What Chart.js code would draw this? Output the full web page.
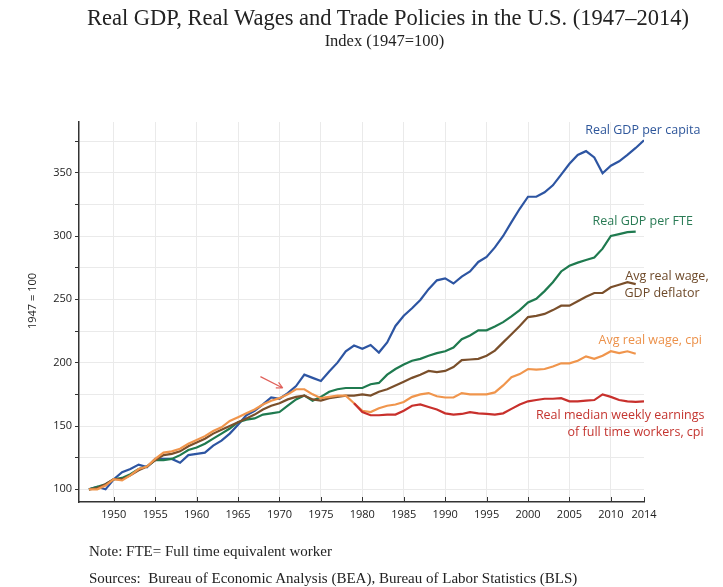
<!DOCTYPE html>
<html>
<head>
<meta charset="utf-8">
<script src="https://cdn.jsdelivr.net/npm/chart.js@4.4.1/dist/chart.umd.min.js"></script>
<style>
    body { margin: 0; background: #fff; }
    #wrap { position: relative; width: 723px; height: 587px; }
    #chartBox { position: absolute; left: 0; top: 0; width: 723px; height: 587px; }
    .txt { position: absolute; font-family: "Liberation Serif", serif; color: #222; white-space: nowrap; }
    #title { top: 3px; left: 0; width: 776px; text-align: center; font-size: 22.5px; line-height: 30px; }
    #subtitle { top: 30px; left: 0; width: 769px; text-align: center; font-size: 16.5px; line-height: 22px; }
    #note { top: 540px; left: 89px; font-size: 15px; line-height: 22px; }
    #sources { top: 567px; left: 89px; font-size: 15px; line-height: 22px; }
</style>
</head>
<body>
<div id="wrap">
    <div id="chartBox"><canvas id="gdpChart"></canvas></div>
    <div class="txt" id="title">Real GDP, Real Wages and Trade Policies in the U.S. (1947–2014)</div>
    <div class="txt" id="subtitle">Index (1947=100)</div>
    <div class="txt" id="note">Note: FTE= Full time equivalent worker</div>
    <div class="txt" id="sources">Sources:&nbsp; Bureau of Economic Analysis (BEA), Bureau of Labor Statistics (BLS)</div>
</div>

<script>
// years 1947..2014
const years = [
    1947, 1948, 1949, 1950, 1951, 1952, 1953, 1954, 1955, 1956,
    1957, 1958, 1959, 1960, 1961, 1962, 1963, 1964, 1965, 1966,
    1967, 1968, 1969, 1970, 1971, 1972, 1973, 1974, 1975, 1976,
    1977, 1978, 1979, 1980, 1981, 1982, 1983, 1984, 1985, 1986,
    1987, 1988, 1989, 1990, 1991, 1992, 1993, 1994, 1995, 1996,
    1997, 1998, 1999, 2000, 2001, 2002, 2003, 2004, 2005, 2006,
    2007, 2008, 2009, 2010, 2011, 2012, 2013, 2014
];

// 1947-2014
const gdpPerCapita = [
    100, 102, 100, 108, 113.5, 116, 119.5, 117.5, 124, 124,
    124, 121, 127, 128, 129, 134.5, 138.5, 144, 151, 158.5,
    162, 167, 172.5, 171.5, 176, 181.5, 190.5, 188, 185.5, 193,
    200, 209, 213.5, 211, 214, 208, 216, 229, 237, 243,
    249.5, 258, 265, 266.5, 262.5, 268, 272, 279.5, 283.5, 291,
    300, 311, 321.5, 331, 331, 334.5, 340, 348.5, 357, 364,
    367, 362, 349.5, 355.5, 359, 364, 369.5, 375.5
];

// 1947-2013
const gdpPerFte = [
    100, 102, 104, 108, 109, 112, 116, 118, 123, 123,
    124, 127, 131, 133, 136, 140, 144, 148, 153, 155,
    156, 159, 160, 161, 166, 171, 174, 170, 173, 177,
    179, 180, 180, 180, 183, 184, 190.5, 195, 198.5, 201.5,
    203, 205.5, 207.5, 209, 212, 218.5, 221.5, 225.5, 225.5, 228.5,
    232, 236.5, 241.5, 247.5, 250.5, 256.5, 263.5, 272, 276.5, 279,
    281, 283, 290, 300, 301.5, 303, 303.5
];

// 1947-2013
const wageGdpDeflator = [
    100, 101, 104, 108, 108, 111, 115, 118, 123, 127,
    128, 130, 134, 137, 140, 144, 147, 150, 153, 156,
    159, 163, 166, 168, 171, 173, 174, 171, 170, 172,
    173, 174, 174, 175, 174, 177, 179, 182, 185, 188,
    190.5, 193.5, 192.5, 193.5, 196.5, 202, 202.5, 203, 205.5, 209.5,
    216, 222.5, 229, 236, 237, 238.5, 241.5, 245, 245, 248.5,
    252, 255, 255, 259.5, 261.5, 263.5, 262
];

// 1947-2013
const wageCpi = [
    100, 100, 103, 108, 107, 111, 116, 118, 124, 129,
    130, 132, 136, 139, 142, 146, 149, 154, 157, 160,
    163, 167, 170, 172, 175, 179, 179, 175, 172, 173,
    174, 174, 168, 162, 161, 164, 166, 167, 169, 173,
    175, 176, 173.5, 172.5, 172.5, 176, 175, 175, 175, 176.5,
    182, 188.5, 191, 195, 194.5, 195, 197, 199.5, 199.5, 201.5,
    205, 203, 205.5, 209, 207.5, 209, 207
];

// 1979-2014
const medianWeekly = [
    168, 161, 158.5, 158.5, 159, 159, 162, 166, 167, 165,
    163, 160, 159, 159.5, 161, 160, 159.5, 159, 160, 163.5,
    167, 169.5, 170.5, 171.5, 171.5, 172, 169.5, 169.5, 170, 170.5,
    175, 173, 170.5, 169.5, 169, 169.5
];

const xTickYears = [1950, 1955, 1960, 1965, 1970, 1975, 1980, 1985, 1990, 1995, 2000, 2005, 2010, 2014];
const yTickValues = [100, 125, 150, 175, 200, 225, 250, 275, 300, 325, 350, 375];

function toPoints(values, startYear) {
    const offset = years.indexOf(startYear);
    return values.map((v, i) => ({ x: years[offset + i], y: v }));
}

const colors = {
    blue: '#2d55a2',
    green: '#1f7a4f',
    brown: '#7a4f2b',
    orange: '#f0954c',
    red: '#c8302c'
};

function lineSet(label, values, startYear, color) {
    return {
        label: label,
        data: toPoints(values, startYear),
        borderColor: color,
        backgroundColor: color,
        borderWidth: 2.2,
        pointRadius: 0,
        tension: 0,
        fill: false
    };
}

// series labels, arrow, y-axis title and inward x ticks
const annotatePlugin = {
    id: 'annotate',
    afterDraw(chart) {
        const ctx = chart.ctx;
        const xs = chart.scales.x;
        const ys = chart.scales.y;
        const area = chart.chartArea;

        ctx.save();
        // inward tick marks on the x axis
        ctx.strokeStyle = '#333';
        ctx.lineWidth = 1;
        xTickYears.forEach(yr => {
            const px = Math.round(xs.getPixelForValue(yr)) + 0.5;
            ctx.beginPath();
            ctx.moveTo(px, area.bottom);
            ctx.lineTo(px, area.bottom - 5);
            ctx.stroke();
        });

        // series labels
        ctx.font = '12.5px "Open Sans", sans-serif';
        ctx.textBaseline = 'middle';
        ctx.textAlign = 'right';
        const labels = [
            { text: 'Real GDP per capita', x: 2020.8, y: 383, color: '#2f579b' },
            { text: 'Real GDP per FTE', x: 2019.9, y: 311.4, color: '#2a7b55' },
            { text: 'Avg real wage,', x: 2021.8, y: 268, color: '#6e4a2a' },
            { text: 'GDP deflator', x: 2020.7, y: 254.6, color: '#6e4a2a' },
            { text: 'Avg real wage, cpi', x: 2021.0, y: 217.5, color: '#ec914a' },
            { text: 'Real median weekly earnings', x: 2021.3, y: 158.4, color: '#c43530' },
            { text: 'of full time workers, cpi', x: 2021.2, y: 145, color: '#c43530' }
        ];
        labels.forEach(l => {
            ctx.fillStyle = l.color;
            ctx.fillText(l.text, xs.getPixelForValue(l.x), ys.getPixelForValue(l.y));
        });

        // red arrow near 1970
        const ax0 = xs.getPixelForValue(1967.7), ay0 = ys.getPixelForValue(189);
        const ax1 = xs.getPixelForValue(1970.4), ay1 = ys.getPixelForValue(180);
        const ang = Math.atan2(ay1 - ay0, ax1 - ax0);
        ctx.strokeStyle = '#e0605a';
        ctx.lineWidth = 1.2;
        ctx.beginPath();
        ctx.moveTo(ax0, ay0);
        ctx.lineTo(ax1, ay1);
        ctx.moveTo(ax1, ay1);
        ctx.lineTo(ax1 - 7 * Math.cos(ang - 0.45), ay1 - 7 * Math.sin(ang - 0.45));
        ctx.moveTo(ax1, ay1);
        ctx.lineTo(ax1 - 7 * Math.cos(ang + 0.45), ay1 - 7 * Math.sin(ang + 0.45));
        ctx.stroke();

        // y-axis title
        ctx.translate(33, (area.top + area.bottom) / 2 - 11);
        ctx.rotate(-Math.PI / 2);
        ctx.textAlign = 'center';
        ctx.fillStyle = '#222';
        ctx.font = '11px "Open Sans", sans-serif';
        ctx.fillText('1947 = 100', 0, 0);
        ctx.restore();
    }
};

const ctx = document.getElementById('gdpChart').getContext('2d');
new Chart(ctx, {
    type: 'line',
    data: {
        datasets: [
            lineSet('Real median weekly earnings of full time workers, cpi', medianWeekly, 1979, colors.red),
            lineSet('Avg real wage, cpi', wageCpi, 1947, colors.orange),
            lineSet('Avg real wage, GDP deflator', wageGdpDeflator, 1947, colors.brown),
            lineSet('Real GDP per FTE', gdpPerFte, 1947, colors.green),
            lineSet('Real GDP per capita', gdpPerCapita, 1947, colors.blue)
        ]
    },
    options: {
        responsive: true,
        maintainAspectRatio: false,
        animation: false,
        layout: { padding: { left: 0, right: 79, top: 122, bottom: 55 } },
        plugins: {
            legend: { display: false },
            tooltip: { enabled: false }
        },
        scales: {
            x: {
                type: 'linear',
                min: 1945.8,
                max: 2014,
                afterBuildTicks: scale => { scale.ticks = xTickYears.map(v => ({ value: v })); },
                afterFit: scale => { scale.height = 30; },
                ticks: {
                    autoSkip: false,
                    maxRotation: 0,
                    padding: 6,
                    color: '#222',
                    font: { family: 'Open Sans', size: 11 },
                    callback: v => String(v)
                },
                grid: {
                    drawTicks: false,
                    color: ctx => (ctx.tick && ctx.tick.value === 2014) ? 'rgba(0,0,0,0)' : '#eaeaea',
                    lineWidth: 1
                },
                border: { display: true, color: '#333', width: 1.5 }
            },
            y: {
                min: 90,
                max: 390,
                afterBuildTicks: scale => { scale.ticks = yTickValues.map(v => ({ value: v })); },
                afterFit: scale => { scale.width = 79; },
                ticks: {
                    autoSkip: false,
                    padding: 3,
                    color: '#222',
                    font: { family: 'Open Sans', size: 11 },
                    callback: v => (v % 50 === 0 ? String(v) : '')
                },
                grid: {
                    color: '#eaeaea',
                    tickColor: '#333',
                    tickLength: 4,
                    lineWidth: 1
                },
                border: { display: true, color: '#333', width: 1.5 }
            }
        }
    },
    plugins: [annotatePlugin]
});
</script>
</body>
</html>
